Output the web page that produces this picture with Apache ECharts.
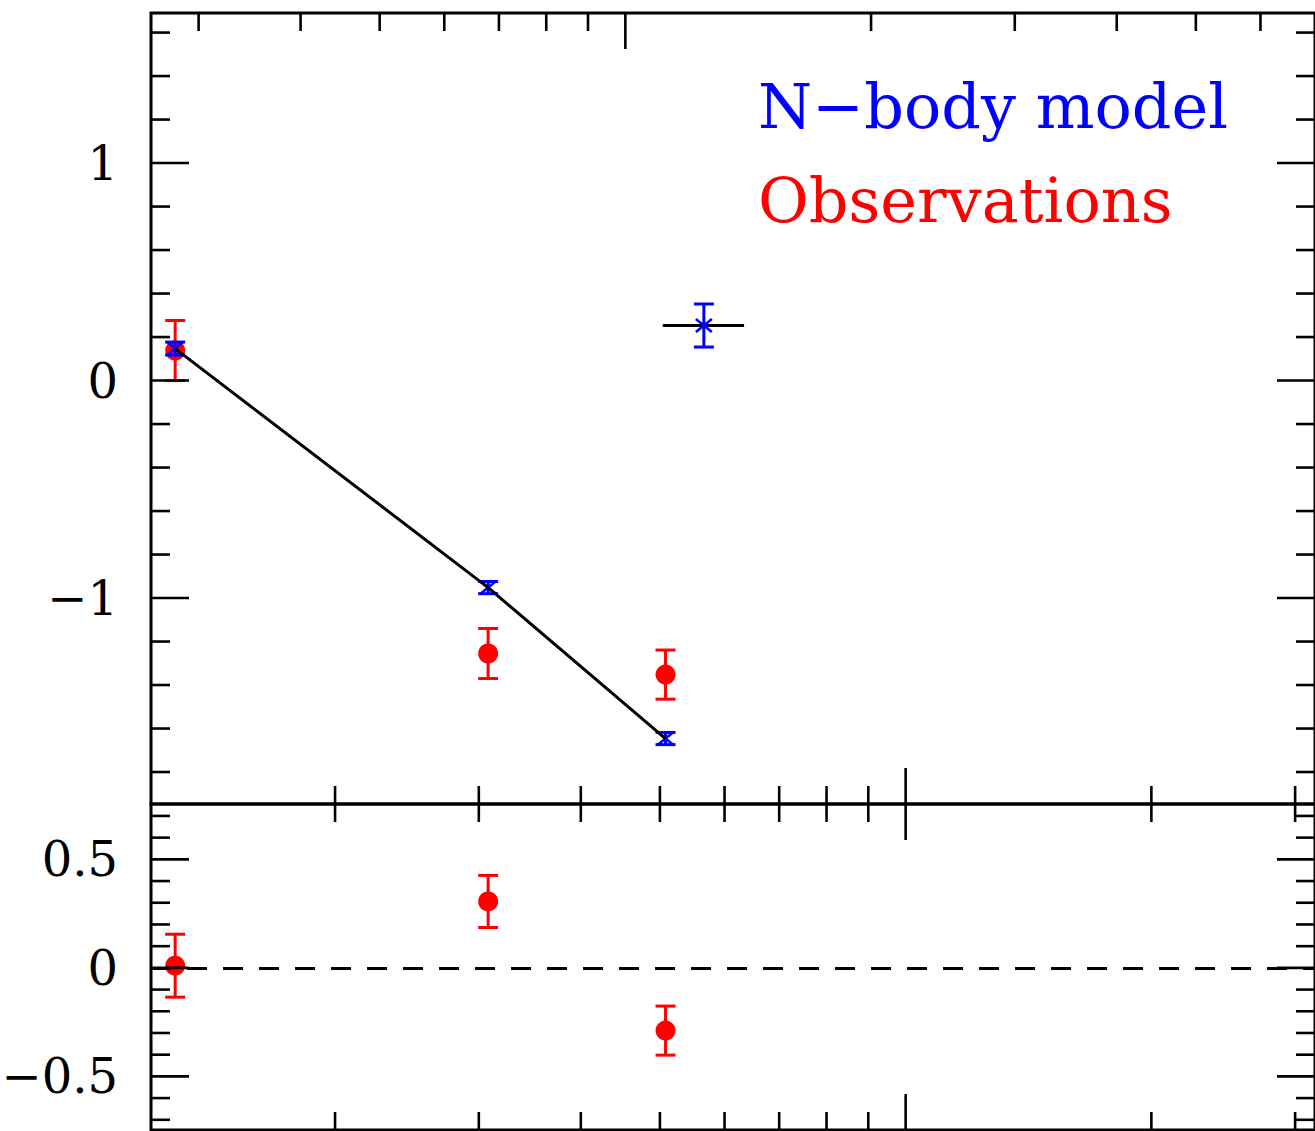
<!DOCTYPE html>
<html>
<head>
<meta charset="utf-8">
<script src="https://cdn.jsdelivr.net/npm/echarts@6/dist/echarts.min.js"></script>
<style>
html,body{margin:0;padding:0;background:#fff;}
#c{width:1315px;height:1131px;}
</style>
</head>
<body>
<div id="c"></div>
<script>
// ---------------- data ----------------
const binX = [1.274, 3.08, 5.08];              // x positions (bottom log axis)
const obsVal = [0.138, -1.255, -1.352];        // observations, top panel
const obsErr = [0.138, 0.115, 0.113];
const modelVal = [0.147, -0.952, -1.646];      // N-body model, top panel
const modelErr = [0.030, 0.028, 0.028];
const extraPoint = [5.66, 0.253, 0.099];       // separate model point [x, y, yErr]
const extraXRange = [5.04, 6.34];              // its horizontal bar
const residVal = [0.010, 0.306, -0.289];       // bottom panel residuals
const residErr = [0.145, 0.120, 0.113];

// tick positions and labels
const xTicksBottom = [2, 3, 4, 5, 6, 7, 8, 9, 10, 20, 30];
const xMajorBottom = [10];
const xTicksTop = [0.3, 0.4, 0.5, 0.6, 0.7, 0.8, 0.9, 1, 2, 3, 4, 5, 6];
const xMajorTop = [1];
const yTicksTop = [-1.8, -1.6, -1.4, -1.2, -1, -0.8, -0.6, -0.4, -0.2, 0, 0.2, 0.4, 0.6, 0.8, 1, 1.2, 1.4, 1.6];
const yMajorTop = [-1, 0, 1];
const yLabelsTop = ['\u22121', '0', '1'];
const yTicksBottom = [-0.7, -0.6, -0.5, -0.4, -0.3, -0.2, -0.1, 0, 0.1, 0.2, 0.3, 0.4, 0.5, 0.6, 0.7];
const yMajorBottom = [-0.5, 0, 0.5];
const yLabelsBottom = ['\u22120.5', '0', '0.5'];

const legendTexts = ['N\u2212body model', 'Observations'];

// ---------------- helpers ----------------
const RED = '#ff0000', BLUE = '#0000ff', BLACK = '#000000';
const LABEL_FONT = '48px "DejaVu Serif"';

function xTickRender(majors, atTop, atBottom) {
  return function (params, api) {
    const v = api.value(0);
    const cs = params.coordSys;
    const px = api.coord([v, api.value(1)])[0];
    const len = majors.indexOf(v) >= 0 ? 36 : 18;
    const st = { stroke: BLACK, lineWidth: 2.6 };
    const kids = [];
    if (atBottom) kids.push({ type: 'line', shape: { x1: px, y1: cs.y + cs.height, x2: px, y2: cs.y + cs.height - len }, style: st });
    if (atTop) kids.push({ type: 'line', shape: { x1: px, y1: cs.y, x2: px, y2: cs.y + len }, style: st });
    return { type: 'group', children: kids };
  };
}

function yTickRender(majors, labels) {
  return function (params, api) {
    const v = api.value(1);
    const cs = params.coordSys;
    const py = api.coord([api.value(0), v])[1];
    const i = majors.indexOf(v);
    const len = i >= 0 ? 38 : 19;
    const st = { stroke: BLACK, lineWidth: 2.6 };
    const kids = [
      { type: 'line', shape: { x1: cs.x, y1: py, x2: cs.x + len, y2: py }, style: st },
      { type: 'line', shape: { x1: cs.x + cs.width, y1: py, x2: cs.x + cs.width - len, y2: py }, style: st }
    ];
    if (i >= 0) {
      kids.push({ type: 'text', style: { text: labels[i], x: cs.x - 33, y: py, align: 'right', verticalAlign: 'middle', font: LABEL_FONT, fill: BLACK } });
    }
    return { type: 'group', children: kids };
  };
}

function errRender(color, withCross) {
  return function (params, api) {
    const x = api.value(0), y = api.value(1), e = api.value(2);
    const c = api.coord([x, y]);
    const lo = api.coord([x, y - e]);
    const hi = api.coord([x, y + e]);
    const w = 10;
    const st = { stroke: color, lineWidth: 3 };
    const kids = [
      { type: 'line', shape: { x1: c[0], y1: lo[1], x2: c[0], y2: hi[1] }, style: st },
      { type: 'line', shape: { x1: c[0] - w, y1: lo[1], x2: c[0] + w, y2: lo[1] }, style: st },
      { type: 'line', shape: { x1: c[0] - w, y1: hi[1], x2: c[0] + w, y2: hi[1] }, style: st }
    ];
    if (withCross) {
      const hx = 8, hy = 6.5;
      kids.push({ type: 'line', shape: { x1: c[0] - hx, y1: c[1] - hy, x2: c[0] + hx, y2: c[1] + hy }, style: { stroke: color, lineWidth: 2.6 } });
      kids.push({ type: 'line', shape: { x1: c[0] - hx, y1: c[1] + hy, x2: c[0] + hx, y2: c[1] - hy }, style: { stroke: color, lineWidth: 2.6 } });
    }
    return { type: 'group', children: kids };
  };
}

function hBarRender(params, api) {
  const y = api.value(1), x1 = api.value(2), x2 = api.value(3);
  const a = api.coord([x1, y]), b = api.coord([x2, y]);
  return { type: 'line', shape: { x1: a[0], y1: a[1], x2: b[0], y2: b[1] }, style: { stroke: BLACK, lineWidth: 3 } };
}

// ---------------- chart ----------------
const chart = echarts.init(document.getElementById('c'), null, { renderer: 'svg', width: 1315, height: 1131 });

const obsData = binX.map((x, i) => [x, obsVal[i], obsErr[i]]);
const modelData = binX.map((x, i) => [x, modelVal[i], modelErr[i]]);
const residData = binX.map((x, i) => [x, residVal[i], residErr[i]]);

const option = {
  animation: false,
  backgroundColor: '#ffffff',
  grid: [
    { left: 151, top: 13, width: 1168, height: 791, show: true, borderColor: BLACK, borderWidth: 3, backgroundColor: 'transparent' },
    { left: 151, top: 804, width: 1168, height: 326, show: true, borderColor: BLACK, borderWidth: 3, backgroundColor: 'transparent' }
  ],
  xAxis: [
    { type: 'log', logBase: 10, gridIndex: 0, min: 1.19, max: 31.73, show: false },
    { type: 'log', logBase: 10, gridIndex: 0, min: 0.2623, max: 6.998, position: 'top', show: false },
    { type: 'log', logBase: 10, gridIndex: 1, min: 1.19, max: 31.73, show: false }
  ],
  yAxis: [
    { type: 'value', gridIndex: 0, min: -1.947, max: 1.69, show: false },
    { type: 'value', gridIndex: 1, min: -0.747, max: 0.755, show: false }
  ],
  graphic: [
    { type: 'text', left: 758, top: 75, style: { text: legendTexts[0], font: '62px "DejaVu Serif"', fill: BLUE }, z: 100 },
    { type: 'text', left: 758, top: 169, style: { text: legendTexts[1], font: '62px "DejaVu Serif"', fill: RED }, z: 100 }
  ],
  series: [
    // ticks top panel
    { type: 'custom', xAxisIndex: 0, yAxisIndex: 0, data: xTicksBottom.map(v => [v, 0]), renderItem: xTickRender(xMajorBottom, false, true), silent: true, z: 10 },
    { type: 'custom', xAxisIndex: 1, yAxisIndex: 0, data: xTicksTop.map(v => [v, 0]), renderItem: xTickRender(xMajorTop, true, false), silent: true, z: 10 },
    { type: 'custom', xAxisIndex: 0, yAxisIndex: 0, data: yTicksTop.map(v => [2, v]), renderItem: yTickRender(yMajorTop, yLabelsTop), silent: true, z: 10 },
    // ticks bottom panel
    { type: 'custom', xAxisIndex: 2, yAxisIndex: 1, data: xTicksBottom.map(v => [v, 0]), renderItem: xTickRender(xMajorBottom, true, true), silent: true, z: 10 },
    { type: 'custom', xAxisIndex: 2, yAxisIndex: 1, data: yTicksBottom.map(v => [2, v]), renderItem: yTickRender(yMajorBottom, yLabelsBottom), silent: true, z: 10 },

    // observations (top)
    { type: 'custom', xAxisIndex: 0, yAxisIndex: 0, data: obsData, encode: { x: 0, y: 1 }, renderItem: errRender(RED, false), z: 2 },
    { type: 'scatter', xAxisIndex: 0, yAxisIndex: 0, data: obsData.map(d => [d[0], d[1]]), symbol: 'circle', symbolSize: 20, itemStyle: { color: RED, opacity: 1 }, z: 3 },

    // model (top)
    { type: 'custom', xAxisIndex: 0, yAxisIndex: 0, data: [[extraPoint[0], extraPoint[1], extraXRange[0], extraXRange[1]]], encode: { x: 0, y: 1 }, renderItem: hBarRender, z: 4 },
    { type: 'custom', xAxisIndex: 0, yAxisIndex: 0, data: modelData.concat([extraPoint]), encode: { x: 0, y: 1 }, renderItem: errRender(BLUE, true), z: 5 },
    { type: 'line', xAxisIndex: 0, yAxisIndex: 0, data: modelData.map(d => [d[0], d[1]]), showSymbol: false, symbol: 'none', lineStyle: { color: BLACK, width: 3 }, z: 6 },

    // residuals (bottom)
    { type: 'custom', xAxisIndex: 2, yAxisIndex: 1, data: residData, encode: { x: 0, y: 1 }, renderItem: errRender(RED, false), z: 2 },
    {
      type: 'scatter', xAxisIndex: 2, yAxisIndex: 1, data: residData.map(d => [d[0], d[1]]), symbol: 'circle', symbolSize: 20, itemStyle: { color: RED, opacity: 1 }, z: 3,
      markLine: { silent: true, symbol: ['none', 'none'], label: { show: false }, lineStyle: { color: BLACK, width: 3, type: [20, 16] }, data: [{ yAxis: 0 }] }
    }
  ]
};
chart.setOption(option);
</script>
</body>
</html>
